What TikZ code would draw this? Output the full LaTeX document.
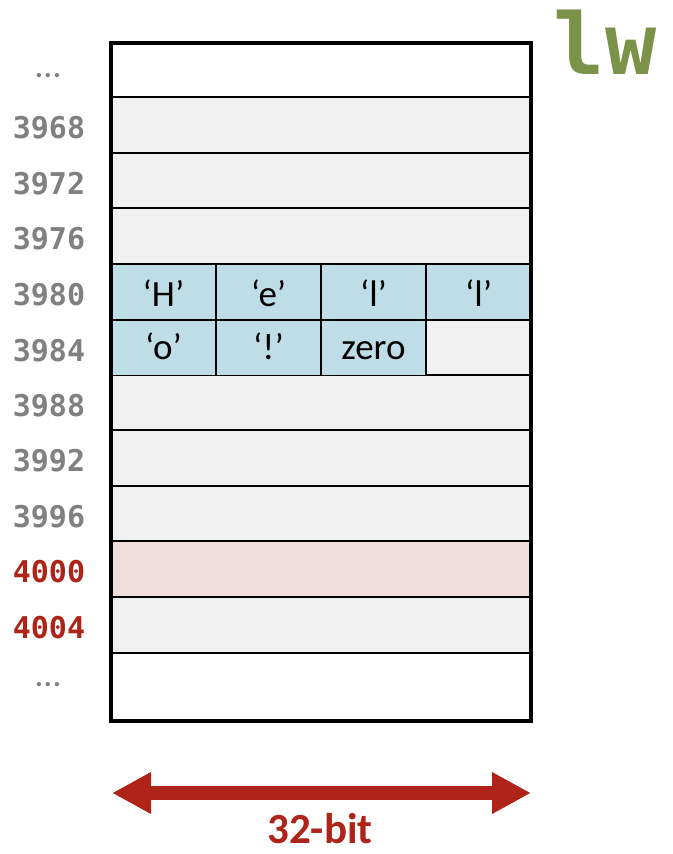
\documentclass[tikz,border=0pt]{standalone}
\usepackage{fontspec}
\setmainfont{Carlito}
\newfontfamily\monob{DejaVu Sans Mono}
\usetikzlibrary{arrows.meta}
\definecolor{cellgray}{HTML}{F1F1F1}
\definecolor{cellblue}{HTML}{BFDDE6}
\definecolor{cellpink}{HTML}{F0DEDC}
\definecolor{labgray}{HTML}{808080}
\definecolor{labred}{HTML}{AE2418}
\definecolor{lwgreen}{HTML}{7A9349}
\tikzset{
  rowbox/.style={draw=black, line width=2pt, minimum width=420pt, minimum height=55.5pt, inner sep=0pt, outer sep=0pt},
  charcell/.style={draw=black, line width=1.5pt, fill=cellblue, minimum width=105pt, minimum height=55.5pt, inner sep=0pt, outer sep=0pt, font=\fontsize{37}{37}\selectfont, text depth=0pt},
  cellA/.style={charcell, text height=28pt},
  cellB/.style={charcell, text height=24pt},
  addr/.style={font=\monob\bfseries\fontsize{30}{30}\selectfont, text=labgray, anchor=center},
  addrred/.style={addr, text=labred},
  dots/.style={font=\fontsize{36}{36}\selectfont, text=labgray},
}
\begin{document}
\begin{tikzpicture}[x=1pt,y=-1pt]
\useasboundingbox (0,0) rectangle (672,854);
% rows
\node[rowbox, fill=white, minimum height=54pt] (r0) at (321,70) {};
\node[rowbox, fill=cellgray] (r1) at (321,125) {};
\node[rowbox, fill=cellgray] (r2) at (321,180.5) {};
\node[rowbox, fill=cellgray] (r3) at (321,236) {};
\node[rowbox, fill=cellgray] (r4) at (321,292) {};
\node[rowbox, fill=cellgray] (r5) at (321,347.5) {};
\node[rowbox, fill=cellgray] (r6) at (321,402.5) {};
\node[rowbox, fill=cellgray] (r7) at (321,458) {};
\node[rowbox, fill=cellgray] (r8) at (321,513.5) {};
\node[rowbox, fill=cellpink] (r9) at (321,569) {};
\node[rowbox, fill=cellgray] (r10) at (321,625) {};
\node[rowbox, fill=white, minimum height=68pt] (r11) at (321,687) {};
% character cells
\node[cellA] (c1) at (163.5,292) {‘H’};
\node[cellA] (c2) at (268.5,292) {‘e’};
\node[cellA] (c3) at (373.5,292) {‘l’};
\node[cellA] (c4) at (478.5,292) {‘l’};
\node[cellB] (c5) at (163.5,347.5) {‘o’};
\node[cellB] (c6) at (268.5,347.5) {‘!’};
\node[cellB] (c7) at (373.5,347.5) {zero};
% outer frame
\node[draw=black, line width=4pt, minimum width=420pt, minimum height=678pt, inner sep=0pt] (frame) at (321,382) {};
% address labels
\node[dots] (l0) at (48,76) {…};
\node[addr] (l1) at (49,128) {3968};
\node[addr] (l2) at (49,183.5) {3972};
\node[addr] (l3) at (49,239) {3976};
\node[addr] (l4) at (49,295) {3980};
\node[addr] (l5) at (49,350.5) {3984};
\node[addr] (l6) at (49,405.5) {3988};
\node[addr] (l7) at (49,461) {3992};
\node[addr] (l8) at (49,516.5) {3996};
\node[addrred] (l9) at (49,572) {4000};
\node[addrred] (l10) at (49,628) {4004};
\node[dots] (l11) at (48,685) {…};
% instruction
\node[font=\monob\bfseries\fontsize{85}{85}\selectfont, text=lwgreen] (lw) at (605,42) {lw};
% width arrow
\coordinate (aL) at (112,793);
\coordinate (aR) at (531,793);
\draw[labred, line width=14pt, {Triangle[width=39pt,length=39pt]}-{Triangle[width=39pt,length=39pt]}] (aL) -- (aR);
\node[font=\bfseries\fontsize{43}{43}\selectfont, text=labred] (bits) at (320,829) {32-bit};
\end{tikzpicture}
\end{document}
